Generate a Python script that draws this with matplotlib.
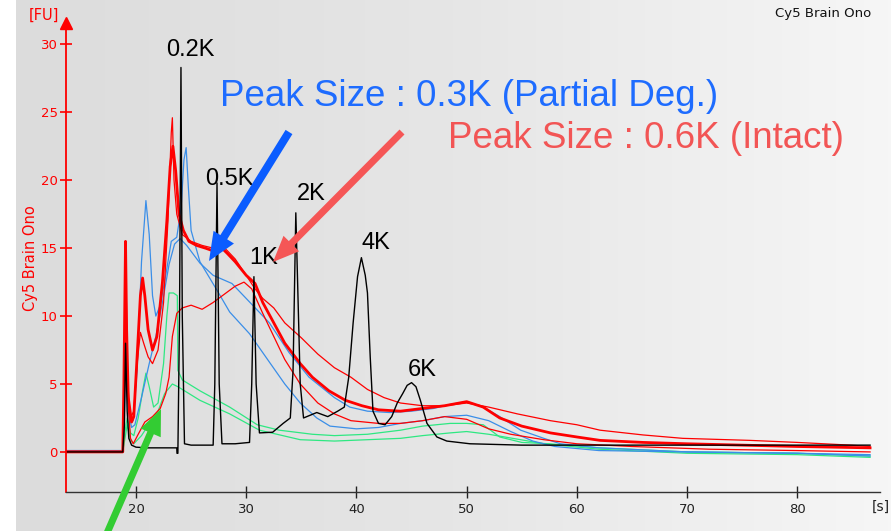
import numpy as np
import matplotlib
matplotlib.use("Agg")
import matplotlib.pyplot as plt
from matplotlib.patches import FancyArrow
from matplotlib.transforms import IdentityTransform
from matplotlib.colors import LinearSegmentedColormap

# ---------------- data (time [s], fluorescence [FU]) ----------------
ladder_t = [13.7, 18.8, 18.95, 19.05, 19.2, 19.35, 19.6, 20.0, 21.0, 23.0, 23.7, 23.72, 23.8, 23.95, 24.08, 24.2,
            24.4, 25.0, 27.0, 27.15, 27.35, 27.55, 27.8, 29.0, 30.3, 30.5, 30.7, 30.9, 31.2, 32.4, 33.35, 34.0,
            34.25, 34.5, 34.9, 35.2, 36.4, 37.4, 38.3, 38.9, 39.3, 39.7, 40.1, 40.45, 40.8, 41.0, 41.25, 41.5,
            42.0, 42.6, 43.2, 43.7, 44.2, 44.6, 45.0, 45.4, 45.8, 46.4, 47.3, 48.2, 50.3, 55.0, 60.0, 70.0,
            80.0, 86.6]
ladder_fu = [0.0, 0.0, 2.0, 8.0, 3.0, 1.0, 0.5, 0.35, 0.3, 0.3, 0.3, -0.1, -0.1, 10.0, 28.3, 10.0,
             0.6, 0.5, 0.5, 5.0, 19.8, 5.0, 0.6, 0.6, 0.7, 5.0, 12.9, 5.0, 1.4, 1.45, 2.1, 2.5,
             6.0, 17.6, 5.0, 2.5, 2.9, 2.6, 3.0, 3.3, 5.5, 9.5, 12.9, 14.3, 13.0, 11.7, 7.0, 3.0,
             2.1, 2.0, 2.6, 3.6, 4.3, 4.9, 5.1, 4.8, 3.8, 2.1, 1.1, 0.8, 0.6, 0.5, 0.5, 0.5,
             0.5, 0.5]

red1_t = [13.7, 18.8, 18.9, 19.05, 19.15, 19.3, 19.6, 19.8, 20.1, 20.4, 20.6, 20.8, 21.1, 21.5, 21.9, 22.4,
          22.8, 23.1, 23.35, 23.6, 23.9, 24.3, 24.8, 25.5, 26.3, 27.0, 27.8, 28.3, 29.0, 30.0, 30.8, 31.5,
          32.5, 33.5, 34.9, 36.0, 37.5, 39.0, 40.5, 42.0, 44.0, 46.0, 48.0, 50.0, 51.5, 53.0, 55.0, 57.6,
          60.0, 62.1, 66.0, 70.0, 75.0, 80.0, 86.6]
red1_fu = [0.0, 0.0, 5.0, 15.5, 9.0, 4.0, 2.2, 2.6, 7.0, 11.5, 12.8, 11.5, 9.0, 7.5, 8.5, 12.5,
           17.0, 21.0, 22.5, 20.7, 17.5, 16.3, 15.5, 15.2, 15.0, 14.8, 15.0, 14.6, 14.0, 13.0, 12.4, 11.0,
           9.5, 8.0, 6.5, 5.5, 4.5, 3.8, 3.4, 3.1, 3.0, 3.2, 3.4, 3.7, 3.3, 2.5, 1.9, 1.4,
           1.1, 0.85, 0.7, 0.6, 0.5, 0.4, 0.3]

red2_t = [13.7, 18.8, 18.95, 19.1, 19.25, 19.5, 19.8, 20.1, 20.4, 20.7, 21.1, 21.5, 22.0, 22.5, 22.9, 23.2,
          23.3, 23.45, 23.7, 24.2, 25.0, 26.0, 27.0, 27.8, 28.3, 29.0, 30.0, 30.8, 31.5, 32.5, 33.5, 35.0,
          36.5, 38.0, 39.5, 41.0, 42.5, 44.0, 46.0, 48.0, 50.0, 52.0, 54.6, 57.6, 60.0, 62.1, 66.0, 69.6,
          75.7, 80.0, 84.8, 86.6]
red2_fu = [0.05, 0.05, 6.0, 12.5, 5.0, 2.5, 3.0, 6.5, 8.8, 8.0, 7.0, 6.5, 7.5, 11.0, 17.0, 23.5,
           24.6, 20.0, 17.5, 16.0, 15.5, 15.2, 15.0, 15.2, 14.8, 14.2, 13.0, 12.0, 11.3, 10.6, 9.5, 8.4,
           7.2, 6.2, 5.5, 4.6, 4.0, 3.6, 3.4, 3.4, 3.6, 3.3, 2.8, 2.3, 2.0, 1.6, 1.25, 1.0,
           0.85, 0.7, 0.5, 0.4]

red3_t = [13.7, 18.8, 18.95, 19.1, 19.25, 19.5, 19.75, 20.2, 20.8, 21.5, 22.2, 22.7, 23.0, 23.3, 23.7, 24.2,
          25.0, 26.0, 27.0, 28.0, 29.0, 29.8, 30.5, 31.5, 32.5, 33.5, 34.9, 36.5, 38.0, 39.5, 42.0, 44.0,
          46.0, 48.0, 50.0, 52.0, 54.0, 57.0, 60.0, 65.0, 72.0, 80.0, 86.6]
red3_fu = [0.0, 0.0, 4.0, 10.5, 4.0, 1.0, 0.6, 1.3, 2.2, 2.6, 3.2, 4.3, 5.5, 8.5, 10.2, 10.6,
           10.8, 10.5, 11.0, 11.6, 12.2, 12.5, 12.0, 10.2, 8.5, 6.8, 5.0, 3.6, 2.8, 2.3, 2.1, 2.1,
           2.3, 2.6, 2.4, 1.7, 1.3, 0.9, 0.6, 0.4, 0.2, 0.1, 0.0]

blue1_t = [13.7, 18.8, 18.95, 19.1, 19.25, 19.5, 19.75, 20.1, 20.5, 20.9, 21.2, 21.5, 21.8, 22.2, 22.7, 23.2,
           23.7, 24.1, 24.35, 24.55, 24.75, 25.0, 25.8, 27.35, 28.5, 30.3, 32.2, 33.5, 34.9, 36.4, 37.6, 40.0,
           42.0, 44.0, 46.0, 48.0, 50.0, 52.0, 54.0, 56.0, 58.0, 62.0, 70.0, 80.0, 86.6]
blue1_fu = [0.1, 0.1, 3.0, 10.5, 4.0, 2.5, 2.3, 6.0, 14.0, 18.5, 16.0, 11.5, 10.0, 10.8, 13.0, 15.5,
            15.8, 18.0, 21.5, 22.4, 19.5, 16.3, 14.0, 11.9, 10.3, 8.7, 6.5, 5.0, 3.6, 2.5, 1.9, 1.7,
            1.8, 2.1, 2.3, 2.6, 2.7, 2.3, 1.5, 0.8, 0.4, 0.1, 0.0, -0.1, -0.2]

blue2_t = [13.7, 18.8, 18.95, 19.1, 19.3, 19.6, 19.9, 20.5, 21.2, 21.8, 22.4, 23.0, 23.5, 24.0, 24.6, 25.8,
           27.0, 28.7, 30.7, 32.1, 33.9, 35.7, 38.0, 39.4, 41.0, 43.0, 45.0, 47.0, 48.5, 50.0, 51.5, 53.0,
           54.9, 57.0, 58.5, 62.0, 70.0, 80.0, 86.6]
blue2_fu = [0.1, 0.1, 3.0, 8.5, 3.0, 1.8, 2.0, 4.0, 6.5, 8.5, 11.0, 13.8, 15.3, 15.7, 15.2, 13.9,
            13.0, 12.4, 10.7, 9.5, 7.3, 5.5, 4.0, 3.3, 3.0, 2.9, 3.0, 3.2, 3.5, 3.7, 3.3, 2.6,
            1.6, 1.0, 0.6, 0.3, 0.0, -0.1, -0.3]

green1_t = [13.7, 18.8, 19.0, 19.2, 19.5, 19.8, 20.2, 20.6, 20.9, 21.2, 21.6, 22.0, 22.5, 22.8, 23.0, 23.4,
            23.75, 23.8, 24.2, 25.8, 28.5, 31.0, 33.0, 36.0, 38.0, 41.0, 44.0, 46.0, 48.5, 50.0, 51.5, 53.0,
            55.0, 57.5, 62.0, 70.0, 80.0, 86.6]
green1_fu = [0.0, 0.0, 1.5, 2.5, 1.4, 1.2, 2.5, 4.5, 5.8, 4.8, 3.3, 3.6, 6.5, 10.0, 11.7, 11.7,
             11.5, 6.0, 5.3, 4.5, 3.3, 2.0, 1.6, 1.3, 1.2, 1.3, 1.6, 1.9, 2.1, 2.1, 2.0, 1.1,
             0.7, 0.6, 0.3, 0.0, -0.1, -0.3]

green2_t = [13.7, 18.8, 19.0, 19.2, 19.5, 19.8, 20.5, 21.3, 22.0, 22.6, 23.3, 23.8, 25.8, 28.5, 31.2, 34.9,
            38.0, 41.0, 44.0, 46.0, 48.5, 50.0, 52.0, 54.9, 57.0, 62.0, 70.0, 80.0, 86.6]
green2_fu = [0.0, 0.0, 1.0, 2.0, 0.9, 0.6, 1.2, 2.2, 3.0, 4.3, 5.0, 4.8, 3.8, 2.8, 1.6, 0.9,
             0.8, 0.9, 1.0, 1.2, 1.4, 1.5, 1.3, 0.9, 0.6, 0.2, -0.1, -0.2, -0.4]

y_ticks = [0, 5, 10, 15, 20, 25, 30]
x_ticks = [20, 30, 40, 50, 60, 70, 80]

peak_labels = ["0.2K", "0.5K", "1K", "2K", "4K", "6K"]
peak_label_t = [24.9, 28.5, 31.6, 35.9, 41.8, 46.0]
peak_label_fu = [29.6, 20.1, 14.3, 19.0, 15.4, 6.0]

# ---------------- figure ----------------
W, H = 891, 531
fig = plt.figure(figsize=(W / 100, H / 100), dpi=100)
fig.patch.set_facecolor("white")

# gradient panel background
bg = fig.add_axes([16 / W, 0, 1 - 16 / W, 1])
grad = np.linspace(0, 1, 256)[None, :]
cm = LinearSegmentedColormap.from_list("g", ["#dcdcdc", "#e6e6e6", "#f6f6f6"])
bg.imshow(grad, aspect="auto", cmap=cm, extent=[0, 1, 0, 1])
bg.set_axis_off()
bg.set_zorder(-10)

ax = fig.add_axes([66 / W, (H - 492) / H, (880 - 66) / W, (492 - 24) / H])
ax.set_facecolor("none")
ax.set_xlim(13.65, 87.5)
ax.set_ylim(-2.95, 31.5)

RED = "#ff0000"
BLUE = "#3a8ee8"
GREEN = "#2ee882"

ax.plot(green2_t, green2_fu, color=GREEN, lw=0.9)
ax.plot(green1_t, green1_fu, color=GREEN, lw=0.9)
ax.plot(blue2_t, blue2_fu, color=BLUE, lw=0.9)
ax.plot(blue1_t, blue1_fu, color=BLUE, lw=0.9)
ax.plot(red3_t, red3_fu, color=RED, lw=0.9)
ax.plot(red2_t, red2_fu, color=RED, lw=0.9)
ax.plot(red1_t, red1_fu, color=RED, lw=2.0)
ax.plot(ladder_t, ladder_fu, color="black", lw=1.0)

for s in ["top", "right"]:
    ax.spines[s].set_visible(False)
ax.spines["left"].set_color(RED)
ax.spines["left"].set_linewidth(1.3)
ax.spines["bottom"].set_color("#333333")
ax.spines["bottom"].set_linewidth(1.0)

ax.set_yticks(y_ticks)
ax.set_yticklabels([str(v) for v in y_ticks])
ax.set_xticks(x_ticks)
ax.set_xticklabels([str(v) for v in x_ticks])
ax.tick_params(axis="y", direction="inout", length=8, width=1.2, colors=RED, labelsize=9.5, pad=2)
ax.tick_params(axis="x", direction="inout", length=8, width=1.0, colors="#222222", labelsize=9.5, pad=4)

# arrow head on y axis
ax.plot([13.65], [31.6], marker="^", color=RED, markersize=8, clip_on=False)

# axis texts
fig.text(44 / W, 1 - 15 / H, "[FU]", color=RED, fontsize=10.5, ha="center", va="center")
fig.text(30 / W, 1 - 258 / H, "Cy5 Brain Ono", color=RED, fontsize=10.5, rotation=90, ha="center", va="center")
fig.text(881 / W, 1 - 507 / H, "[s]", color="#222222", fontsize=10, ha="center", va="center")
fig.text(823 / W, 1 - 14 / H, "Cy5 Brain Ono", color="#111111", fontsize=9.5, ha="center", va="center")

# ladder labels
for lab, t, f in zip(peak_labels, peak_label_t, peak_label_fu):
    ax.text(t, f, lab, fontsize=17, family="Liberation Sans", ha="center", va="center", color="black")

fig.text(469 / W, 1 - 97 / H, "Peak Size : 0.3K (Partial Deg.)", color="#1e6cff",
         fontsize=26.5, family="Liberation Sans", ha="center", va="center")
fig.text(646 / W, 1 - 138 / H, "Peak Size : 0.6K (Intact)", color="#f25555",
         fontsize=26.5, family="Liberation Sans", ha="center", va="center")


def arrow(x0, y0, x1, y1, color, w, hw, hl):
    dx, dy = x1 - x0, -(y1 - y0)
    a = FancyArrow(x0, H - y0, dx, dy, width=w, head_width=hw, head_length=hl,
                   length_includes_head=True, color=color, transform=IdentityTransform(), lw=0)
    fig.add_artist(a)


arrow(289, 132, 209, 261, "#0a5cff", 8, 24, 28)
arrow(402, 132, 273, 262, "#f55656", 7, 22, 26)
arrow(104, 540, 161, 409, "#33cc33", 7, 22, 26)

fig.savefig("out.png", dpi=100)
